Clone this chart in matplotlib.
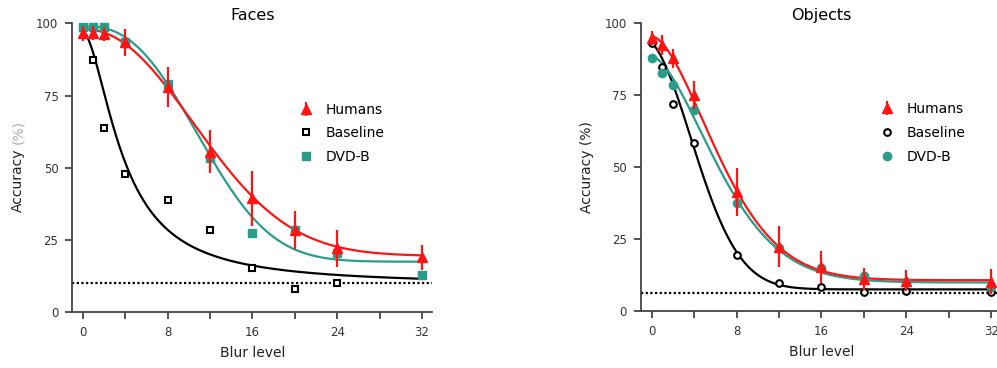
import numpy as np
import matplotlib
matplotlib.use('Agg')
from matplotlib import pyplot as plt

# blur levels shared by both tasks
blur = [0, 1, 2, 4, 8, 12, 16, 20, 24, 32]

# faces task (accuracy in %)
faces_humans = [96.5, 96.7, 96.3, 93.4, 78.1, 55.6, 39.4, 28.5, 22.1, 19.0]
faces_humans_err = [2.6, 2.5, 2.4, 4.7, 6.9, 7.5, 9.4, 6.6, 6.3, 4.4]
faces_baseline = [98.5, 87.3, 63.8, 48.0, 39.0, 28.5, 15.4, 7.9, 10.0, 12.5]
faces_dvdb = [98.8, 98.8, 98.8, 93.6, 79.0, 53.3, 27.3, 28.5, 20.4, 12.9]
faces_chance = 10

# objects task (accuracy in %)
objects_humans = [94.8, 92.5, 87.8, 75.1, 41.5, 22.4, 15.5, 11.1, 10.6, 10.3]
objects_humans_err = [2.5, 3.6, 3.4, 4.9, 8.4, 7.1, 5.6, 3.8, 3.7, 4.3]
objects_baseline = [93.0, 84.9, 71.9, 58.3, 19.5, 9.9, 8.5, 6.8, 7.0, 6.8]
objects_dvdb = [87.8, 82.6, 78.6, 69.9, 37.7, 21.9, 15.0, 12.3, 10.2, 8.5]
objects_chance = 6.25

# fitted psychometric curves: (kind, floor, amplitude, scale, shape, shift)
faces_humans_fit = ('weibull', 19.5, 78.5, 13.96, 2.15, 0.0)
faces_dvdb_fit = ('weibull', 17.5, 81.5, 13.1, 2.56, 0.0)
faces_baseline_fit = ('hill', 9.5, 87.5, 3.85, 1.75, 0.0)
objects_humans_fit = ('weibull', 10.8, 84.7, 8.0, 1.7, 0.0)
objects_dvdb_fit = ('weibull', 10.0, 78.5, 8.02, 1.65, 0.0)
objects_baseline_fit = ('weibull', 7.6, 87.4, 6.45, 2.0, 0.9)

RED = '#ff1414'
TEAL = '#2a9d8a'
SPINE = '#444444'


def fit_curve(x, params):
    kind, floor, amp, scale, shape, shift = params
    z = (x + shift) / scale
    if kind == 'weibull':
        return floor + amp * np.exp(-z ** shape)
    return floor + amp / (1 + z ** shape)


def draw_panel(ax, title, humans, humans_err, baseline, dvdb, chance,
               fits, marker, legend_anchor):
    xs = np.linspace(0, 32, 400)
    human_fit, dvdb_fit, base_fit = fits

    ax.axhline(chance, color='black', lw=1.6, linestyle=(0, (1, 1.1)),
               zorder=1)

    ax.plot(xs, fit_curve(xs, base_fit), color='black', lw=1.6, zorder=2)
    ax.plot(xs, fit_curve(xs, dvdb_fit), color=TEAL, lw=1.6, zorder=2)
    ax.plot(xs, fit_curve(xs, human_fit), color=RED, lw=1.6, zorder=2)

    if marker == 's':
        base_ms, dv_ms = 5.0, 5.4
    else:
        base_ms, dv_ms = 4.8, 6.0
    base = ax.plot(blur, baseline, marker, mfc='white', mec='black',
                   mew=1.5, ms=base_ms, ls='none', label='Baseline',
                   zorder=3, clip_on=False)
    dv = ax.plot(blur, dvdb, marker, color=TEAL, ms=dv_ms, ls='none',
                 label='DVD-B', zorder=4, clip_on=False)

    hum = ax.errorbar(blur, humans, yerr=humans_err, fmt='^', color=RED,
                      ms=6.5, elinewidth=1.6, capsize=0, label='Humans',
                      zorder=5)
    for artist in hum.lines[0], *hum.lines[2]:
        artist.set_clip_on(False)

    ax.legend(handles=[hum, base[0], dv[0]], loc='upper left',
              bbox_to_anchor=legend_anchor, frameon=False, fontsize=10,
              handlelength=1.0, handletextpad=0.9, labelspacing=0.7,
              borderaxespad=0)

    ax.set_xlim(-1, 33)
    ax.set_ylim(0, 100)
    ax.set_xticks([0, 8, 16, 24, 32])
    ax.set_xticks([4, 12, 20, 28], minor=True)
    ax.set_yticks([0, 25, 50, 75, 100])
    ax.tick_params(which='both', direction='out', length=5, width=1.3,
                   color=SPINE, labelcolor='#333333', labelsize=8.5, pad=5)
    for side in ['top', 'right']:
        ax.spines[side].set_visible(False)
    for side in ['left', 'bottom']:
        ax.spines[side].set_color(SPINE)
        ax.spines[side].set_linewidth(1.3)

    ax.set_title(title, fontsize=11.5, pad=2.5)
    ax.set_xlabel('Blur level', fontsize=10, color='#222222', labelpad=5)


def main():
    fig = plt.figure(figsize=(9.97, 3.68), dpi=100)
    ax_faces = fig.add_axes([0.0725, 0.1514, 0.3613, 0.7853])
    ax_objects = fig.add_axes([0.6429, 0.1541, 0.3621, 0.7826])

    draw_panel(ax_faces, 'Faces', faces_humans, faces_humans_err,
               faces_baseline, faces_dvdb, faces_chance,
               (faces_humans_fit, faces_dvdb_fit, faces_baseline_fit),
               's', (0.615, 0.745))
    draw_panel(ax_objects, 'Objects', objects_humans, objects_humans_err,
               objects_baseline, objects_dvdb, objects_chance,
               (objects_humans_fit, objects_dvdb_fit, objects_baseline_fit),
               'o', (0.648, 0.745))

    # faces y label with the unit in grey: measure the full label, then
    # put the grey part at its far end
    x0, y0 = 0.018, 0.424
    style = dict(rotation=90, rotation_mode='anchor', va='center',
                 fontsize=10)
    full = fig.text(x0, y0, 'Accuracy (%)', ha='left', **style)
    fig.canvas.draw()
    length = full.get_window_extent().height / fig.bbox.height
    full.remove()
    fig.text(x0, y0, 'Accuracy', ha='left', color='#222222', **style)
    fig.text(x0, y0 + length, '(%)', ha='right', color='#aaaaaa', **style)

    ax_objects.set_ylabel('Accuracy (%)', fontsize=10, color='#222222',
                          labelpad=8)

    fig.savefig('out.png', dpi=100)


if __name__ == "__main__":
    main()
